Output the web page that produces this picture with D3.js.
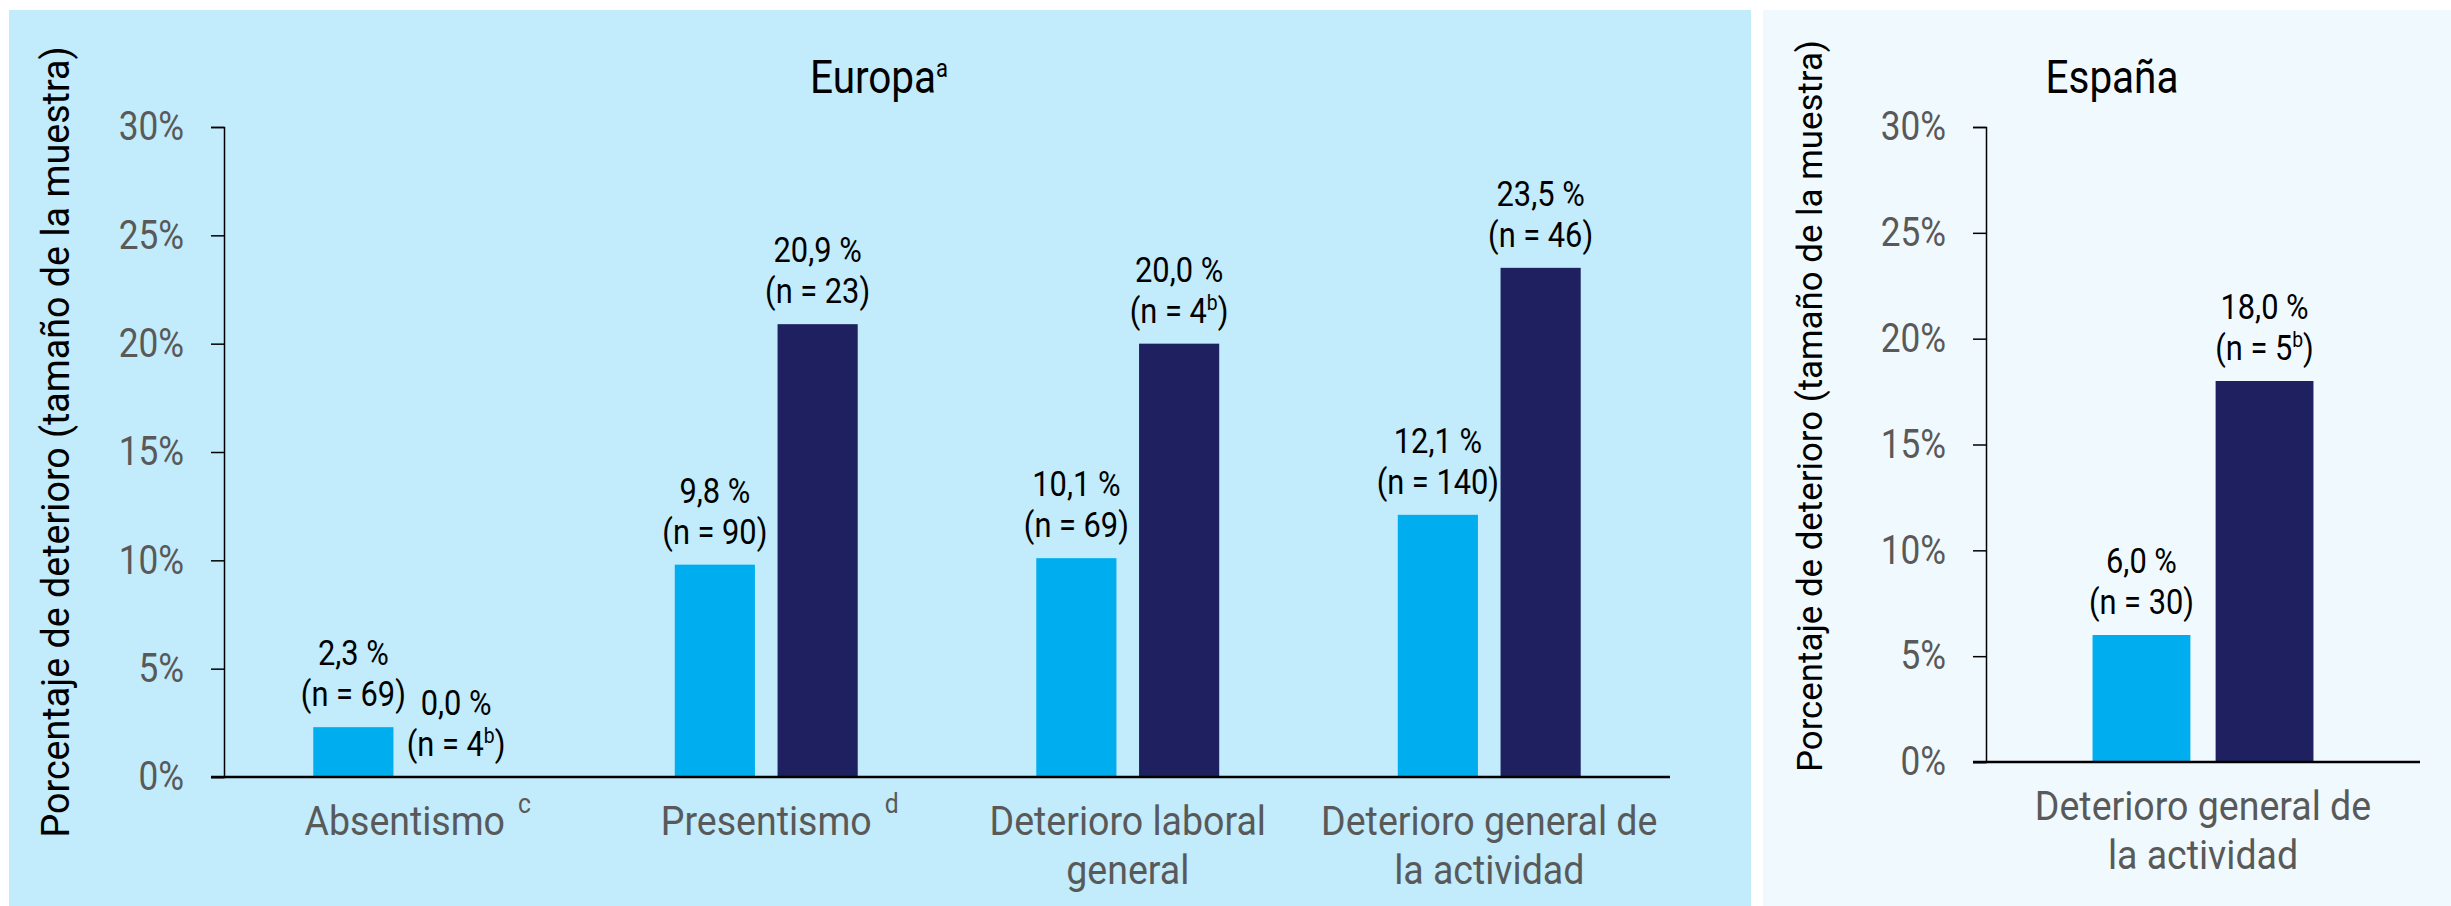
<!DOCTYPE html>
<html>
<head>
<meta charset="utf-8">
<script src="https://cdn.jsdelivr.net/npm/d3@7"></script>
<style>
  body { margin: 0; background: #fff; }
  svg { display: block; }
  text { font-family: Roboto, "Noto Sans", sans-serif; }
</style>
</head>
<body>
<div id="chart"></div>
<script>
// Europa
var euCategories = [["Absentismo"], ["Presentismo"], ["Deterioro laboral", "general"], ["Deterioro general de", "la actividad"]];
var euCategoryNotes = ["c", "d", "", ""];
var euLightValues = [2.3, 9.8, 10.1, 12.1];
var euDarkValues = [0.0, 20.9, 20.0, 23.5];
var euLightN = ["69", "90", "69", "140"];
var euDarkN = ["4", "23", "4", "46"];
var euLightNotes = ["", "", "", ""];
var euDarkNotes = ["b", "", "b", ""];

// España
var esCategories = [["Deterioro general de", "la actividad"]];
var esCategoryNotes = [""];
var esLightValues = [6.0];
var esDarkValues = [18.0];
var esLightN = ["30"];
var esDarkN = ["5"];
var esLightNotes = [""];
var esDarkNotes = ["b"];

var yTicks = [0, 5, 10, 15, 20, 25, 30];
var seriesColors = ["#00aeef", "#1e2060"];
var yTitle = "Porcentaje de deterioro (tamaño de la muestra)";

var W = 2451, H = 906;
var SQUEEZE = 0.88; // narrow the Roboto glyphs a bit, the original uses a condensed face
var CAT_SQUEEZE = 0.915;
var fmt = d3.formatLocale({ decimal: ",", thousands: ".", grouping: [3], currency: ["", " €"] }).format(".1f");

var svg = d3.select("#chart").append("svg")
    .attr("width", W)
    .attr("height", H);

function squeezed(g, x, y, k) {
    k = k || SQUEEZE;
    return g.append("text")
        .attr("transform", "translate(" + x + "," + y + ") scale(" + k + ",1)");
}

function drawPanel(p) {
    var g = svg.append("g");

    g.append("rect")
        .attr("x", p.box[0]).attr("y", p.box[1])
        .attr("width", p.box[2]).attr("height", p.box[3])
        .attr("fill", p.bg);

    var y = d3.scaleLinear().domain([0, 30]).range([p.bottom, p.top]);
    var x0 = d3.scaleBand()
        .domain(d3.range(p.categories.length))
        .range([p.left, p.right])
        .paddingInner(p.groupPad)
        .paddingOuter(p.groupPad / 2);
    var x1 = d3.scaleBand()
        .domain([0, 1])
        .range([0, x0.bandwidth()])
        .paddingInner(p.barPad);

    // y axis
    var yAxis = d3.axisLeft(y)
        .tickValues(yTicks)
        .tickFormat(function (d) { return d + "%"; })
        .tickSize(13)
        .tickPadding(27);
    var ya = g.append("g")
        .attr("transform", "translate(" + p.left + ",0)")
        .call(yAxis);
    ya.select(".domain").attr("stroke", "#000").attr("stroke-width", 1.5);
    ya.selectAll(".tick line").attr("stroke", "#000").attr("stroke-width", 1.5);
    ya.selectAll(".tick text")
        .attr("font-size", 40)
        .attr("font-family", "Roboto")
        .attr("fill", "#595959")
        .each(function () {
            var t = d3.select(this);
            t.attr("x", +t.attr("x") / SQUEEZE).attr("transform", "scale(" + SQUEEZE + ",1)");
        });

    // bars
    var series = [
        { values: p.light, n: p.lightN, notes: p.lightNotes },
        { values: p.dark, n: p.darkN, notes: p.darkNotes }
    ];
    series.forEach(function (s, si) {
        g.append("g").selectAll("rect")
            .data(s.values)
            .join("rect")
            .attr("x", function (d, i) { return x0(i) + x1(si); })
            .attr("y", function (d) { return y(d); })
            .attr("width", x1.bandwidth())
            .attr("height", function (d) { return y(0) - y(d); })
            .attr("fill", seriesColors[si]);

        s.values.forEach(function (v, i) {
            var cx = x0(i) + x1(si) + x1.bandwidth() / 2;
            var top = y(v);
            squeezed(g, cx, top - 62)
                .attr("text-anchor", "middle")
                .attr("font-size", 35)
                .attr("fill", "#000")
                .text(fmt(v) + " %");
            var t2 = squeezed(g, cx, top - 21)
                .attr("text-anchor", "middle")
                .attr("font-size", 35)
                .attr("fill", "#000");
            t2.append("tspan").text("(n = " + s.n[i]);
            if (s.notes[i]) {
                t2.append("tspan").attr("font-size", 22).attr("dy", -13).text(s.notes[i]);
                t2.append("tspan").attr("dy", 13).text(")");
            } else {
                t2.append("tspan").text(")");
            }
        });
    });

    // baseline
    g.append("line")
        .attr("x1", p.left - 13).attr("x2", p.right)
        .attr("y1", y(0)).attr("y2", y(0))
        .attr("stroke", "#000")
        .attr("stroke-width", 2.5);

    // category labels
    p.categories.forEach(function (lines, i) {
        var cx = x0(i) + x0.bandwidth() / 2;
        lines.forEach(function (line, j) {
            var t = squeezed(g, cx, y(0) + 58 + 49 * j, CAT_SQUEEZE)
                .attr("text-anchor", "middle")
                .attr("font-size", 41)
                .attr("fill", "#595959")
                .text(line);
            if (j === 0 && p.categoryNotes[i]) {
                var w = t.node().getComputedTextLength() * CAT_SQUEEZE;
                squeezed(g, cx + w / 2 + 13, y(0) + 58 - 22, CAT_SQUEEZE)
                    .attr("font-size", 27)
                    .attr("fill", "#595959")
                    .text(p.categoryNotes[i]);
            }
        });
    });

    // panel title
    var title = g.append("text")
        .attr("transform", "translate(" + p.titleX + ",93) scale(" + SQUEEZE + ",1)")
        .attr("text-anchor", "middle")
        .attr("font-size", 46)
        .attr("fill", "#000");
    title.append("tspan").text(p.title);
    if (p.titleNote) {
        title.append("tspan").attr("font-size", 25).attr("dy", -16).text(p.titleNote);
    }

    // y title
    g.append("text")
        .attr("transform", "translate(" + p.yTitleX + "," + p.yTitleY + ") rotate(-90)")
        .attr("text-anchor", "middle")
        .attr("font-family", "'Liberation Sans', Arial, sans-serif")
        .attr("font-size", p.yTitleSize)
        .attr("fill", "#000")
        .attr("textLength", p.yTitleLen)
        .attr("lengthAdjust", "spacingAndGlyphs")
        .text(yTitle);
}

drawPanel({
    box: [9, 10, 1742, 896], bg: "#c2ebfb",
    left: 224, right: 1670, top: 127, bottom: 777,
    groupPad: 0.494, barPad: 0.22,
    categories: euCategories, categoryNotes: euCategoryNotes,
    light: euLightValues, dark: euDarkValues,
    lightN: euLightN, darkN: euDarkN,
    lightNotes: euLightNotes, darkNotes: euDarkNotes,
    title: "Europa", titleNote: "a", titleX: 879,
    yTitleX: 69, yTitleY: 442, yTitleLen: 791, yTitleSize: 38
});

drawPanel({
    box: [1763, 10, 688, 896], bg: "#f0fafe",
    left: 1986, right: 2420, top: 127, bottom: 762,
    groupPad: 0.491, barPad: 0.205,
    categories: esCategories, categoryNotes: esCategoryNotes,
    light: esLightValues, dark: esDarkValues,
    lightN: esLightN, darkN: esDarkN,
    lightNotes: esLightNotes, darkNotes: esDarkNotes,
    title: "España", titleNote: "", titleX: 2112,
    yTitleX: 1822, yTitleY: 406, yTitleLen: 732, yTitleSize: 35
});
</script>
</body>
</html>
